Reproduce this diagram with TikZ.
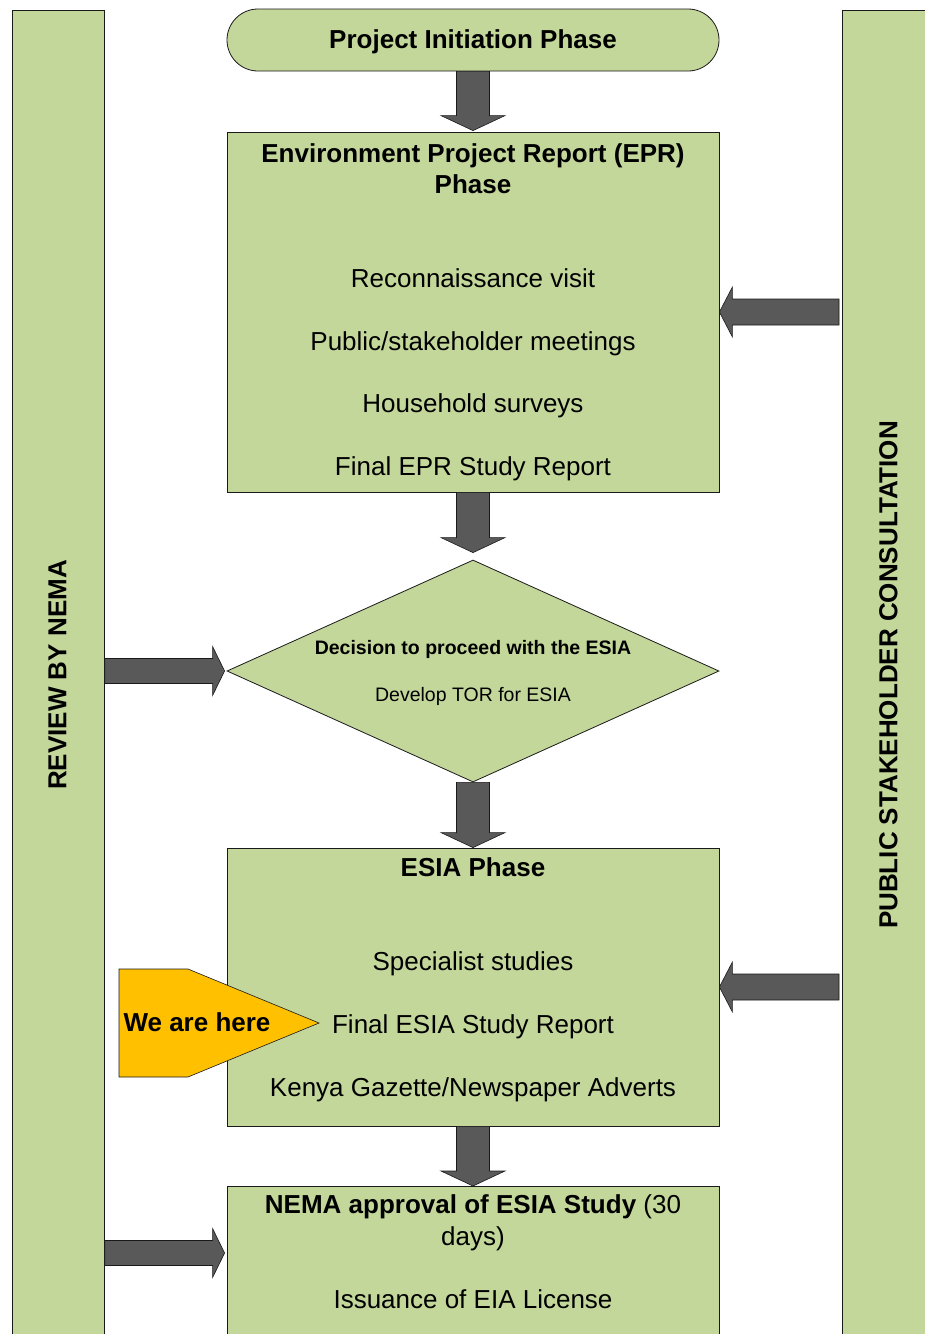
\documentclass[tikz,border=0pt]{standalone}
\usepackage{fontspec}
\setmainfont{Liberation Sans}
\usetikzlibrary{shapes.geometric,calc}
\definecolor{gfill}{HTML}{C4D79B}
\definecolor{afill}{HTML}{595959}
\definecolor{ofill}{HTML}{FFC000}
\definecolor{edgec}{HTML}{1A1A1A}
\tikzset{
  panel/.style={draw=edgec, line width=0.8pt, fill=gfill, inner sep=0pt},
  blk/.style={draw=edgec, line width=0.6pt, fill=afill},
  txt/.style={inner sep=0pt, font=\fontsize{26}{31}\selectfont, text height=18.7pt, text depth=0pt},
  btxt/.style={txt, font=\fontsize{26}{31}\selectfont\bfseries},
  stxt/.style={inner sep=0pt, font=\fontsize{19.5}{23}\selectfont, text height=14pt, text depth=0pt},
  sbtxt/.style={stxt, font=\fontsize{19.5}{23}\selectfont\bfseries},
  herebox/.style={draw=edgec, line width=0.6pt, fill=ofill},
}
% down block arrow: from #1.south to #2.north, tip gap #3
\newcommand\blkdown[3]{%
  \draw[blk] let \p1=(#1.south), \p2=(#2.north) in
    (\x1-16.5pt,\y1) -- (\x1+16.5pt,\y1) -- (\x1+16.5pt,\y2+#3+15pt) -- (\x1+32pt,\y2+#3+15pt)
    -- (\x1,\y2+#3) -- (\x1-32pt,\y2+#3+15pt) -- (\x1-16.5pt,\y2+#3+15pt) -- cycle;}
% right block arrow from #1.east to #2.west at height of #3
\newcommand\blkright[3]{%
  \draw[blk] let \p1=(#1.east |- #3), \p2=(#2.west |- #3) in
    (\x1,\y1+12.5pt) -- (\x2-14pt,\y1+12.5pt) -- (\x2-14pt,\y1+24.5pt) -- (\x2-2pt,\y1)
    -- (\x2-14pt,\y1-24.5pt) -- (\x2-14pt,\y1-12.5pt) -- (\x1,\y1-12.5pt) -- cycle;}
% left block arrow from #1.west to #2.east at height of #3
\newcommand\blkleft[3]{%
  \draw[blk] let \p1=(#1.west |- #3), \p2=(#2.east |- #3) in
    (\x1-3pt,\y1+13pt) -- (\x2+13pt,\y1+13pt) -- (\x2+13pt,\y1+25pt) -- (\x2,\y1)
    -- (\x2+13pt,\y1-25pt) -- (\x2+13pt,\y1-13pt) -- (\x1-3pt,\y1-13pt) -- cycle;}
\begin{document}
\begin{tikzpicture}[x=1pt,y=-1pt]
\useasboundingbox (0,0) rectangle (925,1334);
\fill[white] (0,0) rectangle (925,1334);
\clip (0,0) rectangle (925,1334);
% side bars
\node[panel, minimum width=92pt, minimum height=1340pt, anchor=north west] (nema) at (12,10) {};
\node[panel, minimum width=100pt, minimum height=1340pt, anchor=north west] (stake) at (842,10) {};
\node[btxt, rotate=90] (rv) at (57,675) {REVIEW BY NEMA};
\node[btxt, rotate=90] (ps) at (888,675) {PUBLIC STAKEHOLDER CONSULTATION};
% main boxes
\node[panel, rounded corners=31pt, minimum width=492pt, minimum height=62pt] (init) at (473,40) {};
\node[panel, minimum width=492pt, minimum height=360pt] (epr) at (473,312) {};
\node[panel, diamond, minimum width=492pt, minimum height=222pt] (dec) at (473,671) {};
\node[panel, minimum width=492pt, minimum height=278pt] (esia) at (473,987) {};
\node[panel, minimum width=492pt, minimum height=170pt, anchor=north] (appr) at (473,1186) {};
% texts
\node[btxt] (t0) at (473,39) {Project Initiation Phase};
\node[btxt] (t1) at (473,153) {Environment Project Report (EPR)};
\node[btxt] (t2) at (473,184) {Phase};
\node[txt] (t3) at (473,278) {Reconnaissance visit};
\node[txt] (t4) at (473,341) {Public/stakeholder meetings};
\node[txt] (t5) at (473,403) {Household surveys};
\node[txt] (t6) at (473,466) {Final EPR Study Report};
\node[sbtxt] (t7) at (473,647) {Decision to proceed with the ESIA};
\node[stxt] (t8) at (473,694) {Develop TOR for ESIA};
\node[btxt] (t9) at (473,867) {ESIA Phase};
\node[txt] (t10) at (473,961) {Specialist studies};
\node[txt] (t11) at (473,1024) {Final ESIA Study Report};
\node[txt] (t12) at (473,1087) {Kenya Gazette/Newspaper Adverts};
\node[txt] (t13) at (473,1204) {\bfseries NEMA approval of ESIA Study\mdseries{} (30};
\node[txt] (t14) at (473,1236) {days)};
\node[txt] (t15) at (473,1299) {Issuance of EIA License};
% we are here marker
\draw[herebox] (119,969) -- (188,969) -- (319,1023) -- (188,1077) -- (119,1077) -- cycle;
\node[btxt] (here) at (197,1022) {We are here};
% arrows
\blkdown{init}{epr}{1pt}
\blkdown{epr}{dec}{7pt}
\blkdown{dec}{esia}{0pt}
\blkdown{esia}{appr}{0pt}
\coordinate (ya) at (0,1253);
\blkright{nema}{dec}{dec.west}
\blkright{nema}{appr}{ya}
\blkleft{stake}{epr}{epr.east}
\blkleft{stake}{esia}{esia.east}
\end{tikzpicture}
\end{document}
